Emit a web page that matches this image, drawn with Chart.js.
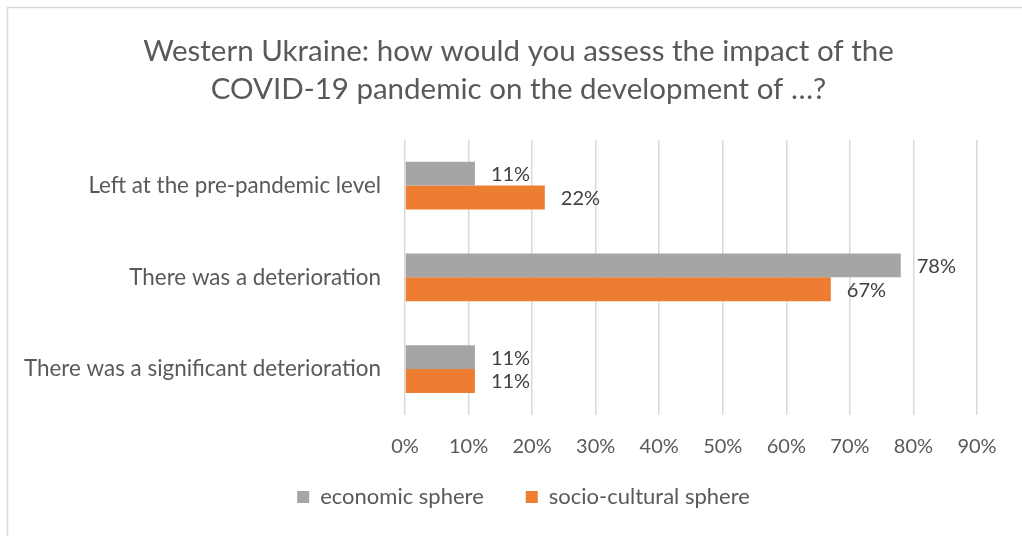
<!DOCTYPE html>
<html>
<head>
<meta charset="utf-8">
<script src="https://cdn.jsdelivr.net/npm/chart.js@4"></script>
<style>
html,body{margin:0;padding:0;background:#fff;}
#wrap{width:1022px;height:536px;position:relative;}
</style>
</head>
<body>
<div id="wrap"><canvas id="c" width="1022" height="536"></canvas></div>
<script>
const titleLines = ["Western Ukraine: how would you assess the impact of the", "COVID-19 pandemic on the development of …?"];
const categories = ["Left at the pre-pandemic level", "There was a deterioration", "There was a significant deterioration"];
const seriesNames = ["economic sphere", "socio-cultural sphere"];
const economicValues = [11, 78, 11];
const socioCulturalValues = [22, 67, 11];
const xTicksMax = 90;
const xTicksStep = 10;

const FONT = "Lato, 'Open Sans', sans-serif";

const frame = {
  id: 'frame',
  beforeDraw(chart) {
    const ctx = chart.ctx;
    ctx.save();
    ctx.fillStyle = '#ffffff';
    ctx.fillRect(0, 0, chart.width, chart.height);
    ctx.strokeStyle = '#d9d9d9';
    ctx.lineWidth = 1.5;
    ctx.beginPath();
    ctx.moveTo(7.5, chart.height);
    ctx.lineTo(7.5, 7.5);
    ctx.lineTo(chart.width, 7.5);
    ctx.stroke();
    ctx.restore();
  }
};

const AXIS_SHRINK = 35;

const shiftBoxes = {
  id: 'shiftBoxes',
  afterLayout(chart) {
    if (chart.legend) { chart.legend.left += 35; chart.legend.right += 35; }
    if (chart.titleBlock) { chart.titleBlock.left += 30; chart.titleBlock.right += 30; }
    if (chart.scales.x) { chart.scales.x.bottom += AXIS_SHRINK; }
  }
};

const valueLabels = {
  id: 'valueLabels',
  afterDatasetsDraw(chart) {
    const ctx = chart.ctx;
    ctx.save();
    ctx.font = "20px " + FONT;
    ctx.fillStyle = '#404040';
    ctx.textAlign = 'left';
    ctx.textBaseline = 'middle';
    chart.data.datasets.forEach((ds, di) => {
      const meta = chart.getDatasetMeta(di);
      meta.data.forEach((bar, i) => {
        ctx.fillText(ds.data[i] + '%', bar.x + 16, bar.y + 1);
      });
    });
    ctx.restore();
  }
};

new Chart(document.getElementById('c'), {
  type: 'bar',
  data: {
    labels: categories,
    datasets: [
      { label: seriesNames[0], data: economicValues, backgroundColor: '#a5a5a5', borderWidth: 0 },
      { label: seriesNames[1], data: socioCulturalValues, backgroundColor: '#ed7d31', borderWidth: 0 }
    ]
  },
  options: {
    indexAxis: 'y',
    responsive: false,
    animation: false,
    maintainAspectRatio: false,
    layout: { padding: { left: 0, right: 45, top: 32, bottom: 18 } },
    datasets: { bar: { categoryPercentage: 0.52, barPercentage: 1.0 } },
    plugins: {
      title: {
        display: true,
        text: titleLines,
        color: '#595959',
        font: { family: FONT, size: 29.5, weight: 'normal', lineHeight: 1.3 },
        padding: { top: 0, bottom: 31 }
      },
      legend: {
        position: 'bottom',
        labels: {
          color: '#595959',
          font: { family: FONT, size: 22 },
          boxWidth: 12,
          boxHeight: 12,
          padding: 42
        }
      },
      tooltip: { enabled: false }
    },
    scales: {
      x: {
        min: 0,
        max: xTicksMax,
        afterFit(scale) { scale.height -= AXIS_SHRINK; },
        ticks: {
          stepSize: xTicksStep,
          color: '#595959',
          font: { family: FONT, size: 20 },
          padding: 20,
          callback: v => v + '%'
        },
        grid: { color: '#d9d9d9', lineWidth: 1.5, drawTicks: false },
        border: { display: false }
      },
      y: {
        ticks: {
          color: '#595959',
          font: { family: FONT, size: 22.4 },
          padding: 24
        },
        grid: { display: false, drawTicks: false },
        border: { display: false }
      }
    }
  },
  plugins: [frame, shiftBoxes, valueLabels]
});
</script>
</body>
</html>
